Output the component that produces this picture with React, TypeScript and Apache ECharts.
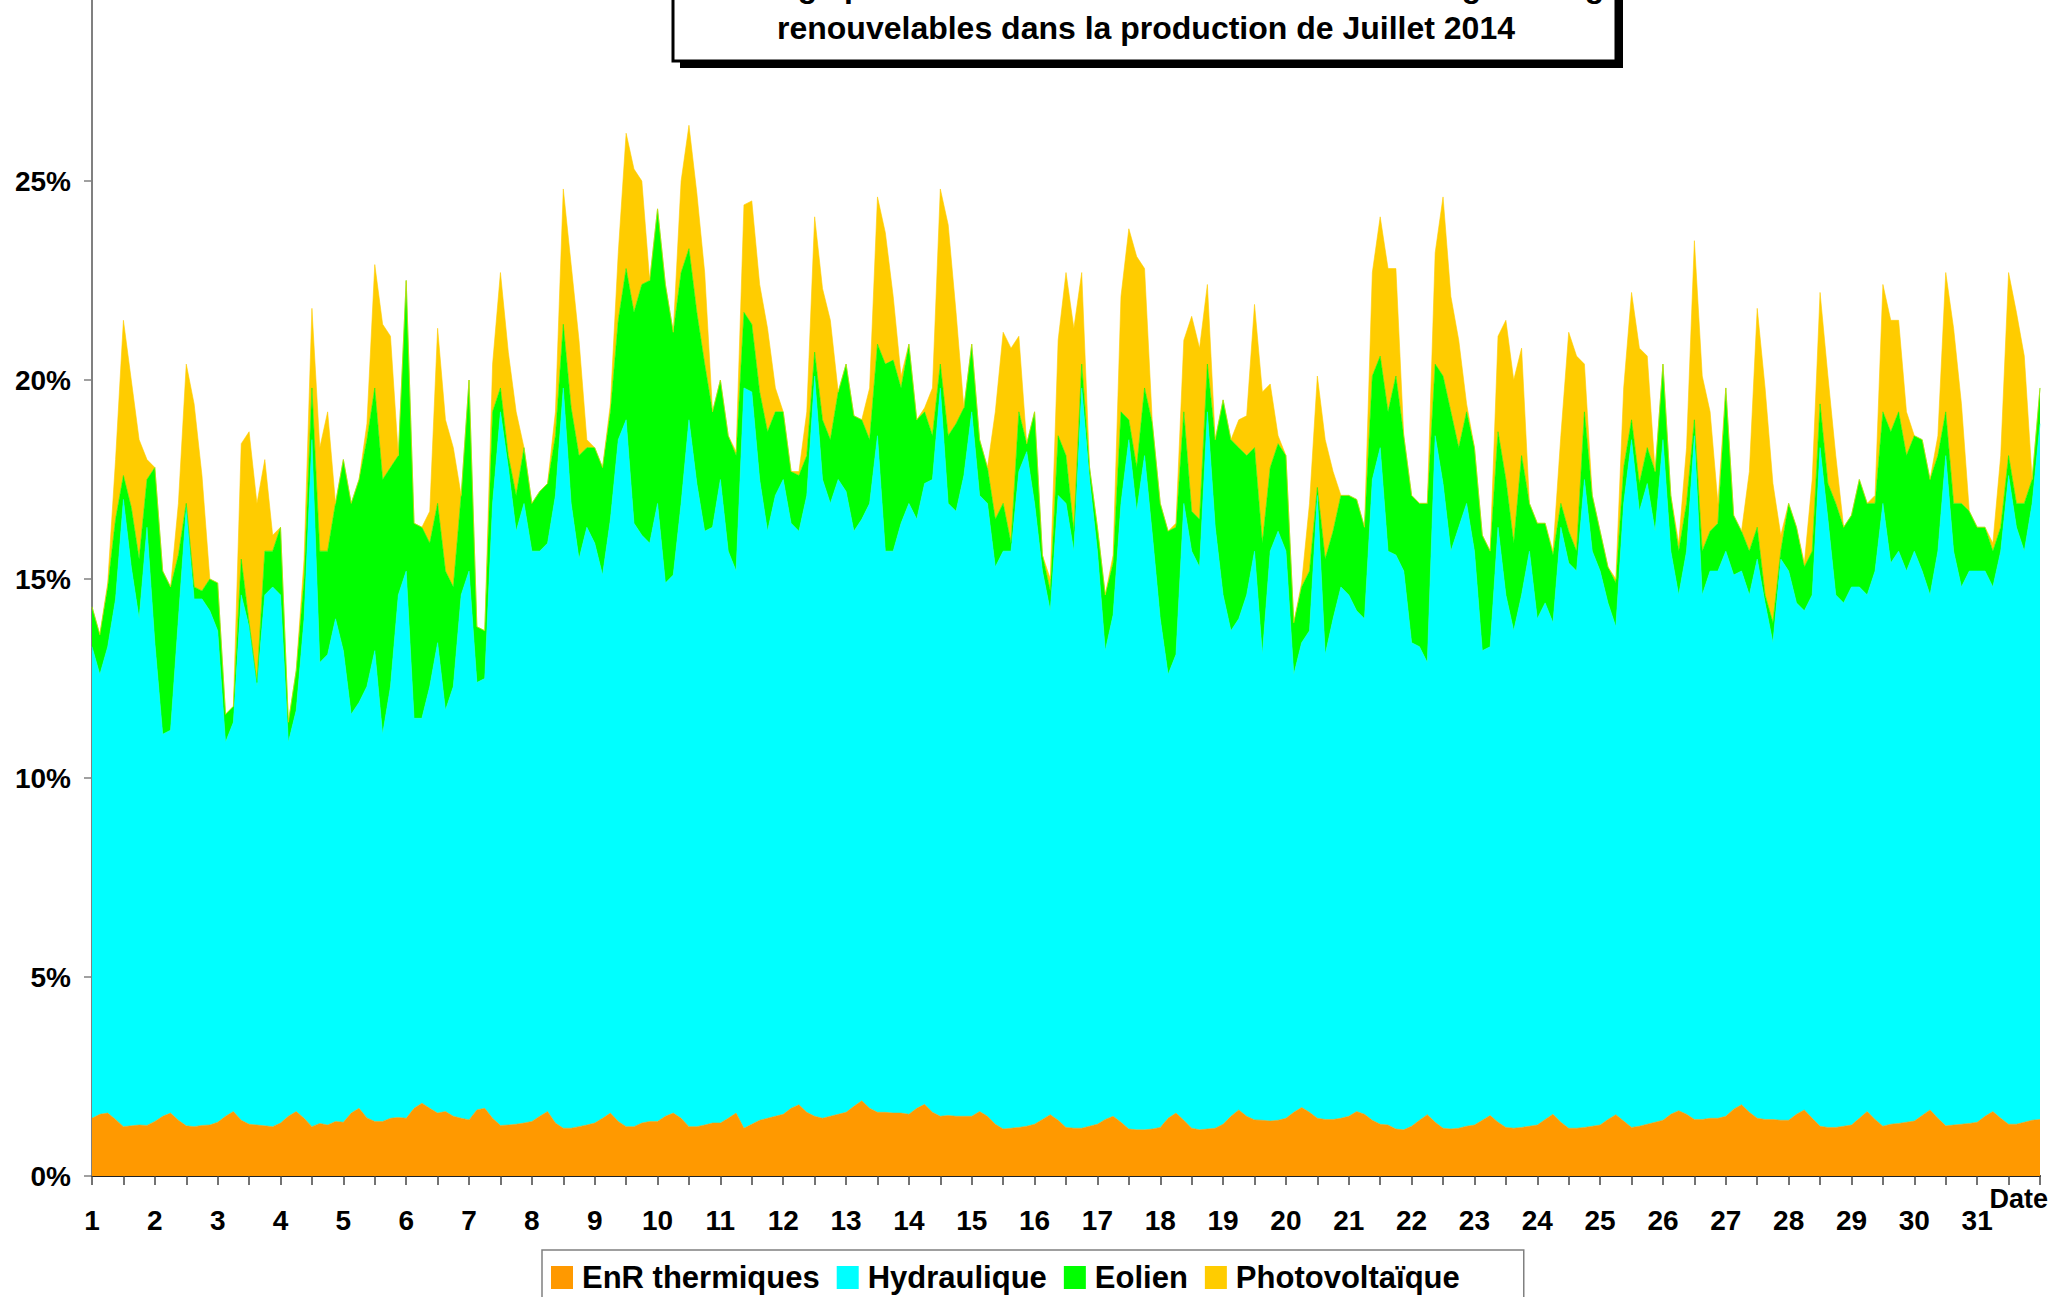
import React, { useEffect, useRef } from 'react';
import * as echarts from 'echarts';

const FONT = '"Liberation Sans", Arial, Helvetica, sans-serif';

const titleLine1 = "Pourcentage par heure des différentes sources d'énergie d'origine";
const titleLine2 = 'renouvelables dans la production de Juillet 2014';
const xAxisTitle = 'Date';

const legendNames = ['EnR thermiques', 'Hydraulique', 'Eolien', 'Photovoltaïque'];
const seriesColors = ['#FF9900', '#00FFFF', '#00FF00', '#FFCC00'];

// days of July 2014 (tick labels) and 3-hourly sampling slots within each day (hours)
const days = [1, 2, 3, 4, 5, 6, 7, 8, 9, 10, 11, 12, 13, 14, 15, 16, 17, 18, 19, 20, 21, 22, 23, 24, 25, 26, 27, 28, 29, 30, 31];
const slotHours = [0, 3, 6, 9, 12, 15, 18, 21];
const endDay = 32;

// share of production (%) — 8 values per day, plus closing value at end of day 31
const thermal = [
  1.45, 1.55, 1.58, 1.42, 1.24, 1.26, 1.28, 1.27,
  1.37, 1.5, 1.58, 1.4, 1.26, 1.24, 1.27, 1.28,
  1.35, 1.5, 1.62, 1.4, 1.3, 1.28, 1.26, 1.24,
  1.33, 1.5, 1.62, 1.45, 1.24, 1.32, 1.28, 1.37,
  1.35, 1.58, 1.7, 1.46, 1.37, 1.37, 1.45, 1.47,
  1.45, 1.7, 1.83, 1.7, 1.58, 1.62, 1.5, 1.45,
  1.41, 1.66, 1.7, 1.45, 1.27, 1.28, 1.3, 1.33,
  1.37, 1.5, 1.62, 1.33, 1.2, 1.2, 1.24, 1.28,
  1.33, 1.45, 1.58, 1.37, 1.24, 1.24, 1.33, 1.37,
  1.37, 1.5, 1.58, 1.45, 1.24, 1.24, 1.28, 1.33,
  1.33, 1.45, 1.58, 1.2, 1.3, 1.4, 1.45, 1.5,
  1.55, 1.7, 1.79, 1.6, 1.5, 1.45, 1.5, 1.55,
  1.6, 1.75, 1.89, 1.7, 1.6, 1.6, 1.58, 1.58,
  1.55, 1.7, 1.8, 1.6, 1.5, 1.52, 1.5, 1.5,
  1.5, 1.62, 1.5, 1.3, 1.18, 1.2, 1.22, 1.25,
  1.3, 1.42, 1.54, 1.4, 1.22, 1.2, 1.2, 1.25,
  1.3, 1.42, 1.5, 1.35, 1.18, 1.16, 1.16, 1.18,
  1.22, 1.45, 1.58, 1.4, 1.2, 1.16, 1.18, 1.2,
  1.3, 1.5, 1.66, 1.5, 1.41, 1.4, 1.38, 1.4,
  1.45, 1.6, 1.72, 1.6, 1.45, 1.42, 1.42, 1.45,
  1.5, 1.62, 1.55, 1.4, 1.3, 1.28, 1.18, 1.16,
  1.25, 1.4, 1.54, 1.35, 1.2, 1.18, 1.2, 1.25,
  1.28, 1.4, 1.52, 1.35, 1.22, 1.2, 1.22, 1.25,
  1.28, 1.42, 1.55, 1.35, 1.2, 1.2, 1.22, 1.25,
  1.28, 1.42, 1.54, 1.38, 1.22, 1.25, 1.3, 1.35,
  1.4, 1.55, 1.64, 1.55, 1.42, 1.42, 1.45, 1.45,
  1.5, 1.68, 1.79, 1.6, 1.45, 1.42, 1.42, 1.4,
  1.4, 1.55, 1.66, 1.45, 1.25, 1.22, 1.22, 1.25,
  1.28, 1.45, 1.62, 1.42, 1.25, 1.3, 1.32, 1.35,
  1.38, 1.52, 1.66, 1.45, 1.26, 1.28, 1.3, 1.32,
  1.35, 1.5, 1.62, 1.45, 1.3, 1.3, 1.35, 1.4,
  1.42,
];

const hydro = [
  11.85, 11.05, 11.72, 13.08, 15.76, 14.04, 12.72, 15.03,
  12.03, 9.6, 9.62, 12.6, 15.54, 13.26, 13.23, 12.92,
  12.35, 9.4, 9.78, 13.2, 12.5, 11.02, 13.34, 13.56,
  13.27, 9.4, 10.08, 12.55, 17.26, 11.58, 11.82, 12.63,
  11.85, 10.02, 10.2, 10.84, 11.83, 9.73, 10.85, 13.13,
  13.75, 9.8, 9.67, 10.6, 11.82, 10.08, 10.8, 13.15,
  13.79, 10.74, 10.8, 15.45, 17.93, 16.52, 14.9, 15.57,
  14.33, 14.2, 14.28, 15.77, 18.6, 15.7, 14.26, 15.02,
  14.57, 13.65, 14.92, 17.13, 17.76, 15.16, 14.77, 14.53,
  15.53, 13.4, 13.52, 15.45, 17.76, 16.16, 14.92, 14.97,
  16.17, 14.25, 13.62, 18.6, 18.4, 16.1, 14.75, 15.6,
  15.95, 14.7, 14.41, 15.5, 18.6, 16.05, 15.4, 15.95,
  15.6, 14.45, 14.61, 15.2, 17.0, 14.1, 14.12, 14.82,
  15.35, 14.8, 15.6, 15.9, 18.3, 15.38, 15.2, 16.1,
  17.7, 15.48, 15.4, 14.0, 14.52, 14.5, 16.48, 16.95,
  15.6, 13.78, 12.66, 15.7, 15.68, 14.5, 18.6, 16.25,
  14.4, 11.78, 12.6, 15.55, 17.32, 15.54, 16.94, 14.92,
  12.78, 11.15, 11.52, 15.5, 14.5, 14.14, 18.02, 15.1,
  13.3, 12.2, 12.34, 13.1, 14.29, 11.7, 14.32, 14.8,
  14.25, 11.0, 11.68, 12.1, 15.65, 11.68, 12.58, 13.35,
  13.1, 12.58, 12.45, 16.1, 17.0, 14.42, 14.42, 14.04,
  12.15, 11.9, 11.36, 17.25, 16.2, 14.52, 15.1, 15.65,
  14.42, 11.8, 11.78, 14.95, 13.38, 12.5, 13.38, 14.45,
  12.72, 12.98, 12.35, 14.95, 14.2, 14.0, 16.28, 14.45,
  13.92, 12.98, 12.26, 15.52, 17.28, 15.45, 16.1, 14.85,
  17.1, 14.15, 12.96, 14.15, 17.18, 13.18, 13.75, 13.75,
  14.2, 13.42, 13.41, 13.0, 14.05, 12.98, 11.98, 14.1,
  13.8, 12.85, 12.54, 13.15, 17.05, 15.28, 13.38, 13.15,
  13.52, 13.35, 12.98, 13.78, 15.65, 14.1, 14.38, 13.85,
  14.32, 13.68, 12.94, 14.25, 16.84, 14.42, 13.5, 13.88,
  13.85, 13.7, 13.18, 14.25, 16.3, 15.0, 14.35, 15.5,
  17.48,
];

const wind = [
  1.0, 1.0, 1.5, 2.0, 0.6, 1.5, 1.5, 1.2,
  4.4, 4.1, 3.6, 1.6, 0.1, 0.3, 0.2, 0.8,
  1.2, 0.7, 0.4, 0.9, 0.1, 0.1, 1.1, 0.9,
  1.7, 0.5, 1.0, 1.0, 1.3, 2.8, 2.6, 2.9,
  4.8, 5.3, 5.6, 6.2, 6.6, 6.4, 5.5, 3.5,
  7.3, 4.9, 4.8, 3.6, 3.5, 3.5, 2.5, 2.5,
  4.8, 1.4, 1.2, 2.3, 0.6, 0.3, 0.9, 1.4,
  1.2, 1.5, 1.5, 1.5, 1.6, 2.4, 2.6, 2.0,
  2.4, 2.7, 2.7, 3.0, 3.8, 5.3, 6.3, 6.6,
  7.4, 7.5, 6.1, 5.8, 4.3, 4.3, 4.2, 2.9,
  2.5, 2.9, 2.9, 1.9, 1.7, 2.2, 2.5, 2.1,
  1.7, 1.3, 1.4, 1.0, 0.6, 1.5, 1.6, 2.2,
  3.2, 2.9, 2.5, 1.6, 2.3, 4.7, 4.8, 3.4,
  4.0, 2.5, 1.8, 1.1, 0.6, 1.7, 2.2, 1.7,
  1.7, 1.4, 0.9, 1.2, 1.2, 0.2, 1.5, 0.2,
  2.3, 0.4, 0.5, 1.5, 1.2, 0.5, 0.6, 0.3,
  0.6, 1.4, 1.3, 2.3, 0.5, 1.1, 1.7, 2.8,
  2.9, 3.6, 3.2, 2.3, 1.0, 1.2, 1.2, 2.2,
  4.9, 4.8, 4.3, 3.5, 2.6, 2.8, 2.1, 2.2,
  2.4, 1.3, 1.4, 1.5, 0.2, 2.4, 2.2, 2.3,
  2.5, 2.8, 2.3, 2.6, 2.3, 3.5, 4.5, 3.4,
  3.7, 3.6, 4.0, 1.8, 2.7, 3.5, 2.0, 2.3,
  2.6, 2.9, 2.4, 2.4, 2.9, 2.2, 3.5, 1.2,
  2.4, 2.0, 1.7, 0.6, 0.8, 0.5, 1.7, 1.4,
  1.0, 0.9, 1.1, 0.9, 0.5, 0.7, 0.9, 1.5,
  1.9, 1.4, 1.1, 1.2, 0.4, 1.1, 1.0, 1.2,
  4.1, 1.5, 1.0, 1.1, 0.8, 0.2, 0.5, 0.2,
  1.7, 1.9, 1.1, 1.1, 1.1, 0.9, 2.3, 1.9,
  1.8, 2.7, 2.3, 1.7, 2.3, 3.3, 3.5, 2.9,
  2.9, 3.3, 2.9, 2.4, 1.1, 1.2, 2.1, 1.5,
  1.1, 1.1, 0.9, 0.6, 0.5, 0.6, 1.2, 0.6,
  0.9,
];

const solar = [
  0, 0, 0.1, 1.5, 3.9, 3.2, 3.0, 0.5,
  0, 0, 0, 1.3, 3.5, 4.6, 2.9, 0,
  0, 0, 0, 2.9, 4.8, 4.5, 2.3, 0.4,
  0, 0, 0, 0.5, 2.0, 2.6, 3.5, 0,
  0, 0, 0, 0.4, 3.1, 3.9, 3.3, 0,
  0, 0, 0, 0.8, 4.4, 3.8, 3.5, 0,
  0, 0, 0, 1.2, 2.9, 2.6, 2.1, 0,
  0, 0, 0, 0.6, 3.4, 3.6, 2.9, 0.2,
  0, 0, 0.2, 1.7, 3.4, 3.6, 2.6, 0,
  0, 0, 0, 2.3, 3.1, 3.0, 2.3, 0,
  0, 0, 0.1, 2.7, 3.1, 2.7, 2.6, 0.6,
  0, 0, 0.1, 1.1, 3.4, 3.3, 3.0, 0,
  0, 0, 0, 1.3, 3.7, 3.3, 1.6, 0.3,
  0, 0, 0.1, 1.2, 4.4, 5.3, 2.8, 0,
  0, 0, 0, 2.7, 4.3, 4.9, 1.9, 0,
  0, 0, 0.3, 2.4, 4.6, 5.1, 2.3, 0,
  0, 0, 0.2, 2.9, 4.8, 5.3, 3.0, 0,
  0, 0, 0.1, 1.8, 4.9, 4.3, 2.0, 0,
  0, 0, 0.7, 1.0, 3.6, 3.8, 2.1, 0.2,
  0, 0, 0.1, 1.7, 2.8, 3.0, 1.5, 0,
  0, 0, 0, 2.6, 3.5, 3.6, 2.7, 0,
  0, 0, 0, 2.8, 4.5, 2.9, 2.7, 0.2,
  0, 0, 0, 2.4, 4.0, 4.1, 2.7, 0,
  0, 0, 0.1, 1.7, 5.0, 4.9, 1.2, 0,
  0, 0, 0.1, 2.0, 3.2, 3.4, 2.3, 0,
  0, 0, 0.2, 1.4, 4.5, 4.4, 3.0, 0.5,
  0, 0, 0, 2.0, 5.5, 5.2, 3.5, 0.4,
  0, 0, 0.1, 1.8, 2.8, 2.7, 1.2, 0,
  0, 0, 0, 0.2, 3.2, 2.8, 2.3, 1.1,
  0, 0, 0, 0.5, 3.5, 4.4, 2.5, 0,
  0, 0, 0.2, 1.8, 4.6, 4.8, 3.7, 0,
  0,
];

const seriesValues = [thermal, hydro, wind, solar];

export default function App() {
  const ref = useRef<HTMLDivElement>(null);

  useEffect(() => {
    if (!ref.current) return;
    const chart = echarts.init(ref.current, null, { renderer: 'svg' });

    // category per 3-hour slot: "day hh"
    const categories: string[] = [];
    days.forEach((d) => slotHours.forEach((h) => categories.push(`${d} ${String(h).padStart(2, '0')}h`)));
    categories.push(`${endDay} 00h`);
    const slots = slotHours.length;
    const lastIndex = categories.length - 1;

    const textBase = { fontFamily: FONT, fontWeight: 'bold' as const, color: '#000' };

    const series = legendNames.map((name, si) => ({
      name,
      type: 'line',
      stack: 'enr',
      data: seriesValues[si],
      symbol: 'none',
      showSymbol: false,
      color: seriesColors[si],
      itemStyle: { color: seriesColors[si] },
      lineStyle: { width: 0.6, color: seriesColors[si] },
      areaStyle: { color: seriesColors[si], opacity: 1 },
      emphasis: { disabled: true },
      z: 2,
    }));

    const option: any = {
      animation: false,
      backgroundColor: '#fff',
      textStyle: { fontFamily: FONT },
      grid: { left: 92, right: 14, top: -18, bottom: 121, containLabel: false, outerBoundsMode: 'none' },
      xAxis: {
        type: 'category',
        data: categories,
        boundaryGap: false,
        axisLine: { show: true, lineStyle: { color: '#222', width: 2 } },
        axisTick: {
          show: true,
          length: 9,
          interval: (index: number) => index % (slots / 2) === 0,
          lineStyle: { color: '#444', width: 1.5 },
        },
        splitLine: { show: false },
        axisLabel: {
          ...textBase,
          fontSize: 28,
          margin: 30,
          interval: (index: number) => index % slots === 0 && index < lastIndex,
          formatter: (value: string) => value.split(' ')[0],
        },
      },
      yAxis: {
        type: 'value',
        min: 0,
        max: 30,
        interval: 5,
        axisLine: { show: true, lineStyle: { color: '#808080', width: 2 } },
        axisTick: { show: true, length: 8, lineStyle: { color: '#808080', width: 1.5 } },
        splitLine: { show: false },
        axisLabel: { ...textBase, fontSize: 28, margin: 21, formatter: (v: number) => (v >= 30 ? '' : `${v}%`) },
      },
      legend: {
        data: legendNames,
        left: 542,
        top: 1250,
        orient: 'horizontal',
        icon: 'rect',
        itemWidth: 22,
        itemHeight: 23,
        itemGap: 17,
        padding: [12, 64, 12, 9],
        borderColor: '#808080',
        borderWidth: 1.5,
        backgroundColor: '#fff',
        selectedMode: false,
        textStyle: { ...textBase, fontSize: 31, padding: [0, 0, 0, 4] },
      },
      graphic: [
        { type: 'rect', silent: true, z: 100, shape: { x: 680, y: -60, width: 943, height: 128 }, style: { fill: '#000' } },
        { type: 'rect', silent: true, z: 101, shape: { x: 673, y: -66, width: 943, height: 127 }, style: { fill: '#fff', stroke: '#000', lineWidth: 3 } },
        {
          type: 'text', silent: true, z: 102, x: 1146, y: -14,
          style: { text: titleLine1, font: `bold 32px ${FONT}`, fill: '#000', textAlign: 'center', align: 'center', textVerticalAlign: 'middle', verticalAlign: 'middle' },
        },
        {
          type: 'text', silent: true, z: 102, x: 1146, y: 28,
          style: { text: titleLine2, font: `bold 32px ${FONT}`, fill: '#000', textAlign: 'center', align: 'center', textVerticalAlign: 'middle', verticalAlign: 'middle' },
        },
        {
          type: 'text', silent: true, z: 102, x: 2048, y: 1199,
          style: { text: xAxisTitle, font: `bold 27px ${FONT}`, fill: '#000', textAlign: 'right', align: 'right', textVerticalAlign: 'middle', verticalAlign: 'middle' },
        },
      ],
      series,
    };

    chart.setOption(option);
    return () => chart.dispose();
  }, []);

  return <div ref={ref} style={{ position: 'absolute', left: 0, top: 0, width: 2054, height: 1297 }} />;
}
